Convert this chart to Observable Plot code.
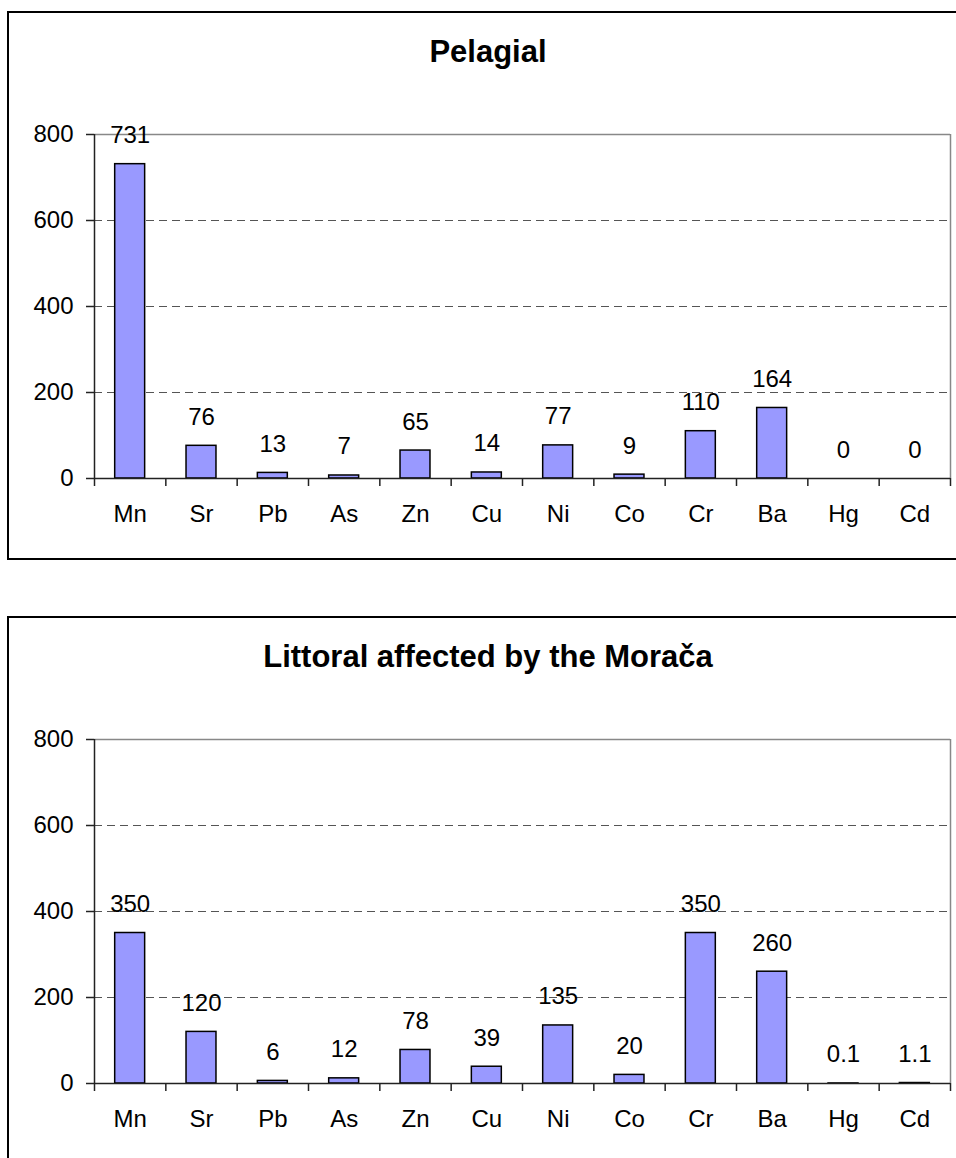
<!DOCTYPE html>
<html>
<head>
<meta charset="utf-8">
<script src="https://cdn.jsdelivr.net/npm/d3@7"></script>
<script src="https://cdn.jsdelivr.net/npm/@observablehq/plot@0.6"></script>
<style>
  html, body { margin: 0; padding: 0; background: #fff; }
  body { width: 956px; height: 1158px; position: relative; overflow: hidden;
         font-family: "Liberation Sans", Arial, sans-serif; }
  .panel { position: absolute; left: 7px; width: 980px; border: 2px solid #000; box-sizing: border-box; }
  .title { position: absolute; left: 8px; width: 960px; text-align: center;
           font-weight: bold; font-size: 31px; line-height: 31px; color: #000; }
  .chart { position: absolute; left: 0; }
</style>
</head>
<body>
<script>
const categories = ["Mn", "Sr", "Pb", "As", "Zn", "Cu", "Ni", "Co", "Cr", "Ba", "Hg", "Cd"];
const pelagialValues = [731, 76, 13, 7, 65, 14, 77, 9, 110, 164, 0, 0];
const pelagialLabels = ["731", "76", "13", "7", "65", "14", "77", "9", "110", "164", "0", "0"];
const littoralValues = [350, 120, 6, 12, 78, 39, 135, 20, 350, 260, 0.1, 1.1];
const littoralLabels = ["350", "120", "6", "12", "78", "39", "135", "20", "350", "260", "0.1", "1.1"];
const yTicks = [0, 200, 400, 600, 800];
const gridTicks = [200, 400, 600];
const titles = ["Pelagial", "Littoral affected by the Mora\u010da"];

const FONT = "'Liberation Sans', Arial, sans-serif";

function makeChart(values, labels) {
  const data = categories.map((c, i) => ({cat: c, i, v: values[i], label: labels[i]}));
  return Plot.plot({
    width: 956,
    height: 440,
    marginLeft: 94,
    marginRight: 6,
    marginTop: 34,
    marginBottom: 62,
    style: {fontSize: "24px", fontFamily: FONT, color: "#000", background: "transparent", overflow: "visible"},
    x: {type: "linear", domain: [0, categories.length], axis: null},
    y: {domain: [0, 800], axis: null},
    marks: [
      Plot.ruleY(gridTicks, {stroke: "#555", strokeWidth: 1, strokeDasharray: "8,5"}),
      Plot.ruleY([800], {stroke: "#888", strokeWidth: 1.5}),
      Plot.ruleX([categories.length], {y1: 0, y2: 800, stroke: "#888", strokeWidth: 1.5}),
      Plot.rectY(data, {x1: d => d.i + 0.29, x2: d => d.i + 0.71, y1: 0, y2: "v",
                        fill: "#9999FF", stroke: "#000", strokeWidth: 1.5}),
      Plot.ruleX([0], {y1: 0, y2: 800, stroke: "#222", strokeWidth: 1.5}),
      Plot.ruleY([0], {stroke: "#222", strokeWidth: 1.5}),
      Plot.axisY({ticks: yTicks, tickSize: 8, tickPadding: 13, fontSize: 24, label: null, stroke: "#222", strokeWidth: 1.5}),
      Plot.axisX({ticks: d3.range(categories.length + 1), tickSize: 8, tickFormat: () => "", label: null, stroke: "#222", strokeWidth: 1.5}),
      Plot.axisX({ticks: d3.range(categories.length).map(i => i + 0.5), tickSize: 0, tickPadding: 26, label: null,
                  tickFormat: t => categories[Math.floor(t)], fontSize: 24}),
      Plot.text(data, {x: d => d.i + 0.5, y: "v", text: "label", dy: -21, lineAnchor: "bottom",
                       fontSize: 24, fill: "#000"})
    ]
  });
}

const panels = [
  {top: 11, height: 549, title: 62, svgTop: 100, values: pelagialValues, labels: pelagialLabels},
  {top: 616, height: 600, title: 667, svgTop: 705, values: littoralValues, labels: littoralLabels}
];

panels.forEach((p, k) => {
  const box = document.createElement("div");
  box.className = "panel";
  box.style.top = p.top + "px";
  box.style.height = p.height + "px";
  document.body.appendChild(box);

  const t = document.createElement("div");
  t.className = "title";
  t.textContent = titles[k];
  t.style.top = (p.title - 26.2) + "px";
  document.body.appendChild(t);

  const wrap = document.createElement("div");
  wrap.className = "chart";
  wrap.style.top = p.svgTop + "px";
  wrap.appendChild(makeChart(p.values, p.labels));
  document.body.appendChild(wrap);
});
</script>
</body>
</html>
